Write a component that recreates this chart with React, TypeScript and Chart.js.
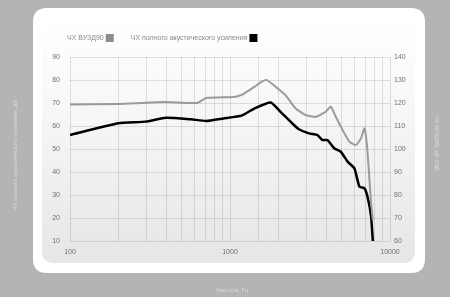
import React, { useEffect, useRef } from "react";
import { Chart, registerables } from "chart.js";

Chart.register(...registerables);

const legendLabels = ["ЧХ ВУЗД90", "ЧХ полного акустического усиления"];
const leftTitle = "ЧХ полного акустического усиления, дБ";
const rightTitle = "ЧХ ВУЗД90, дБ УЗД";
const xTitle = "Частота, Гц";

const grayFreq = [100, 200, 386, 624, 711, 1052, 1182, 1428, 1580, 1700, 2217, 2563, 2965, 3428, 3964, 4264, 4584, 5052, 5568, 6130, 6592, 6922, 7160, 7370, 7621, 7810];
const grayValues = [119.3, 119.6, 120.4, 120.0, 122.2, 122.6, 123.5, 127.1, 129.3, 130.0, 123.5, 117.7, 114.8, 114.0, 116.2, 118.4, 114.0, 108.3, 103.2, 101.7, 104.7, 109.0, 102.5, 90.9, 76.4, 69.1];

const blackFreq = [100, 201, 297, 398, 571, 711, 910, 1182, 1428, 1800, 2114, 2443, 2694, 3114, 3513, 3777, 4062, 4479, 4929, 5433, 5989, 6440, 6922, 7264, 7621, 7810];
const blackValues = [56.1, 61.2, 61.9, 63.6, 62.9, 62.2, 63.3, 64.5, 67.7, 70.2, 65.5, 61.2, 58.6, 56.8, 56.1, 53.9, 53.9, 50.3, 48.8, 44.5, 41.6, 33.6, 32.9, 28.7, 20.6, 10.0];

const leftTicks = [10, 20, 30, 40, 50, 60, 70, 80, 90];
const rightTicks = [60, 70, 80, 90, 100, 110, 120, 130, 140];
const xTickLabels = [100, 1000, 10000];

const FONT = "'Liberation Sans', Arial, sans-serif";

function roundRect(ctx: CanvasRenderingContext2D, x: number, y: number, w: number, h: number, r: number) {
  ctx.beginPath();
  ctx.moveTo(x + r, y);
  ctx.lineTo(x + w - r, y);
  ctx.quadraticCurveTo(x + w, y, x + w, y + r);
  ctx.lineTo(x + w, y + h - r);
  ctx.quadraticCurveTo(x + w, y + h, x + w - r, y + h);
  ctx.lineTo(x + r, y + h);
  ctx.quadraticCurveTo(x, y + h, x, y + h - r);
  ctx.lineTo(x, y + r);
  ctx.quadraticCurveTo(x, y, x + r, y);
  ctx.closePath();
}

const framePlugin = {
  id: "frame",
  beforeDraw(chart: any) {
    const ctx = chart.ctx as CanvasRenderingContext2D;
    ctx.save();
    ctx.fillStyle = "#b4b4b4";
    ctx.fillRect(0, 0, chart.width, chart.height);
    ctx.fillStyle = "#ffffff";
    roundRect(ctx, 33, 8, 392, 265, 14);
    ctx.fill();
    const g = ctx.createLinearGradient(0, 20, 0, 263);
    g.addColorStop(0, "#ffffff");
    g.addColorStop(0.4, "#f6f6f6");
    g.addColorStop(1, "#e6e6e6");
    ctx.fillStyle = g;
    roundRect(ctx, 42, 18, 373, 245, 12);
    ctx.fill();
    ctx.restore();
  },
  afterDraw(chart: any) {
    const ctx = chart.ctx as CanvasRenderingContext2D;
    ctx.save();
    ctx.font = `7px ${FONT}`;
    ctx.textBaseline = "middle";
    ctx.textAlign = "left";
    let x = 67;
    const y = 38;
    const colors = ["#8c8c8c", "#000000"];
    legendLabels.forEach((t, i) => {
      ctx.fillStyle = "#888888";
      ctx.fillText(t, x, y);
      const w = ctx.measureText(t).width;
      ctx.fillStyle = colors[i];
      ctx.fillRect(x + w + 2, y - 4, 8, 8);
      x += w + 2 + 8 + 17;
    });
    ctx.fillStyle = "#dcdcdc";
    ctx.textAlign = "center";
    ctx.font = `6px ${FONT}`;
    ctx.fillText(xTitle, 232, 290);
    ctx.save();
    ctx.translate(15, 155);
    ctx.rotate(-Math.PI / 2);
    ctx.fillText(leftTitle, 0, 0);
    ctx.restore();
    ctx.save();
    ctx.translate(437, 143);
    ctx.rotate(Math.PI / 2);
    ctx.fillText(rightTitle, 0, 0);
    ctx.restore();
    ctx.restore();
  },
};

export default function App() {
  const ref = useRef<HTMLCanvasElement | null>(null);
  useEffect(() => {
    document.body.style.margin = "0";
    const canvas = ref.current!;
    const chart = new Chart(canvas, {
      type: "line",
      data: {
        datasets: [
          {
            label: legendLabels[0],
            data: grayFreq.map((f, i) => ({ x: f, y: grayValues[i] })),
            borderColor: "#9a9a9a",
            borderWidth: 2,
            pointRadius: 0,
            tension: 0.15,
            yAxisID: "y1",
          },
          {
            label: legendLabels[1],
            data: blackFreq.map((f, i) => ({ x: f, y: blackValues[i] })),
            borderColor: "#000000",
            borderWidth: 2.5,
            pointRadius: 0,
            tension: 0.15,
            yAxisID: "y",
          },
        ],
      },
      options: {
        responsive: false,
        animation: false,
        layout: { padding: { left: 40, right: 30, top: 57, bottom: 36 } },
        plugins: { legend: { display: false }, tooltip: { enabled: false } },
        scales: {
          x: {
            type: "logarithmic",
            min: 100,
            max: 10000,
            afterFit: (s: any) => { s.height = 20; },
            border: { display: false },
            grid: { color: "rgba(0,0,0,0.11)", drawTicks: false, lineWidth: 1 },
            ticks: {
              autoSkip: false,
              maxRotation: 0,
              padding: 7,
              color: "#707070",
              font: { size: 7, family: FONT },
              callback: (v: any) => (xTickLabels.includes(Number(v)) ? String(v) : ""),
            },
          },
          y: {
            position: "left",
            min: 10,
            max: 90,
            afterFit: (s: any) => { s.width = 30; },
            afterBuildTicks: (s: any) => { s.ticks = leftTicks.map((v) => ({ value: v })); },
            border: { display: false },
            grid: { color: "rgba(0,0,0,0.11)", drawTicks: false },
            ticks: { padding: 10, color: "#707070", font: { size: 7, family: FONT } },
          },
          y1: {
            position: "right",
            min: 60,
            max: 140,
            afterFit: (s: any) => { s.width = 30; },
            afterBuildTicks: (s: any) => { s.ticks = rightTicks.map((v) => ({ value: v })); },
            border: { display: false },
            grid: { display: false, drawTicks: false },
            ticks: { padding: 4, color: "#707070", font: { size: 7, family: FONT } },
          },
        },
      },
      plugins: [framePlugin],
    });
    return () => chart.destroy();
  }, []);
  return (
    <div style={{ width: 450, height: 297 }}>
      <canvas ref={ref} width={450} height={297} style={{ display: "block" }} />
    </div>
  );
}
